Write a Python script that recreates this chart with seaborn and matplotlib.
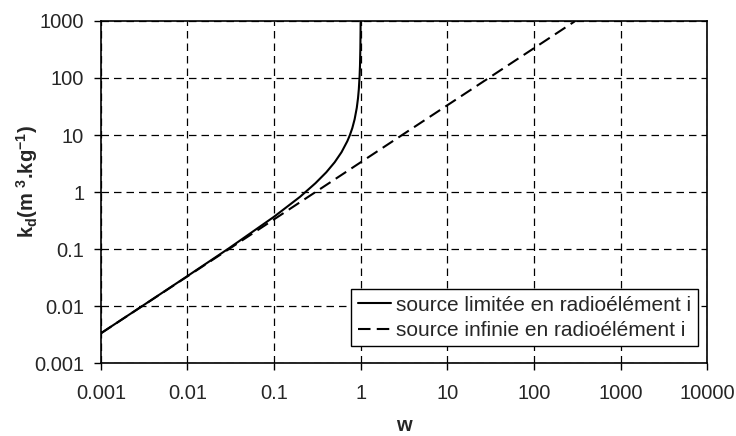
import numpy as np
import pandas as pd
import matplotlib
matplotlib.use("Agg")
import matplotlib.pyplot as plt
import seaborn as sns

# values (log-log)
w_lim = [0.001, 0.003, 0.01, 0.03, 0.1, 0.2, 0.3, 0.4, 0.5, 0.6, 0.7, 0.75, 0.8,
         0.85, 0.9, 0.93, 0.95, 0.97, 0.98, 0.99, 0.995, 0.9967]
kd_lim = [0.00334, 0.01003, 0.0337, 0.103, 0.37, 0.83, 1.43, 2.22, 3.33, 5.0, 7.8,
          10.0, 13.3, 18.9, 30.0, 44.3, 63.3, 108, 163, 330, 663, 1000]
w_inf = [0.001, 0.01, 0.1, 1, 10, 100, 300]
kd_inf = [0.00333, 0.0333, 0.333, 3.33, 33.3, 333, 1000]

lab_lim = "source limitée en radioélément i"
lab_inf = "source infinie en radioélément i"

df = pd.concat([
    pd.DataFrame({"w": w_lim, "kd": kd_lim, "serie": lab_lim}),
    pd.DataFrame({"w": w_inf, "kd": kd_inf, "serie": lab_inf}),
])

sns.set_style("white")
plt.rcParams["font.family"] = ["Liberation Sans", "DejaVu Sans"]
plt.rcParams["mathtext.fontset"] = "custom"
plt.rcParams["mathtext.bf"] = "Liberation Sans:bold"
plt.rcParams["mathtext.rm"] = "Liberation Sans"

fig = plt.figure(figsize=(7.36, 4.36), dpi=100)
ax = fig.add_axes([0.137, 0.167, 0.824, 0.785])

sns.lineplot(data=df, x="w", y="kd", hue="serie", style="serie",
             palette=["black", "black"], dashes=[(None, None), (6, 3)],
             linewidth=1.5, sort=False, estimator=None, ax=ax)
ax.lines[0].set_linestyle("-")
ax.lines[1].set_dashes((6, 3))

ax.set_xscale("log")
ax.set_yscale("log")
ax.set_xlim(0.001, 10000)
ax.set_ylim(0.001, 1000)
xt = [0.001, 0.01, 0.1, 1, 10, 100, 1000, 10000]
yt = [0.001, 0.01, 0.1, 1, 10, 100, 1000]
ax.set_xticks(xt)
ax.set_xticklabels(["0.001", "0.01", "0.1", "1", "10", "100", "1000", "10000"])
ax.set_yticks(yt)
ax.set_yticklabels(["0.001", "0.01", "0.1", "1", "10", "100", "1000"])
ax.minorticks_off()
ax.grid(True, color="black", linestyle=(0, (6, 4)), linewidth=0.9)
ax.tick_params(axis="both", direction="out", length=5, width=1, color="black",
               labelsize=14.5, left=True, bottom=True)
ax.tick_params(axis="x", pad=10)
ax.tick_params(axis="y", pad=7)
for s in ax.spines.values():
    s.set_color("black")
    s.set_linewidth(1.2)

ax.set_xlabel("w", fontsize=14.5, fontweight="bold", labelpad=9)
ax.set_ylabel(r"k$\mathbf{_d}$(m $\mathbf{^3}$.kg$\mathbf{^{-1}}$)",
              fontsize=14.5, fontweight="bold", labelpad=6)
ax.yaxis.set_label_coords(-0.1, 0.53)

handles, labels = ax.get_legend_handles_labels()
leg = ax.legend(handles, labels, loc="lower right", bbox_to_anchor=(0.984, 0.05),
                fontsize=15, frameon=True, fancybox=False, framealpha=1,
                edgecolor="black", handlelength=1.6, borderpad=0.3,
                labelspacing=0.3, handletextpad=0.25, borderaxespad=0)
leg.get_frame().set_linewidth(1.0)

fig.savefig("out.png", dpi=100)
